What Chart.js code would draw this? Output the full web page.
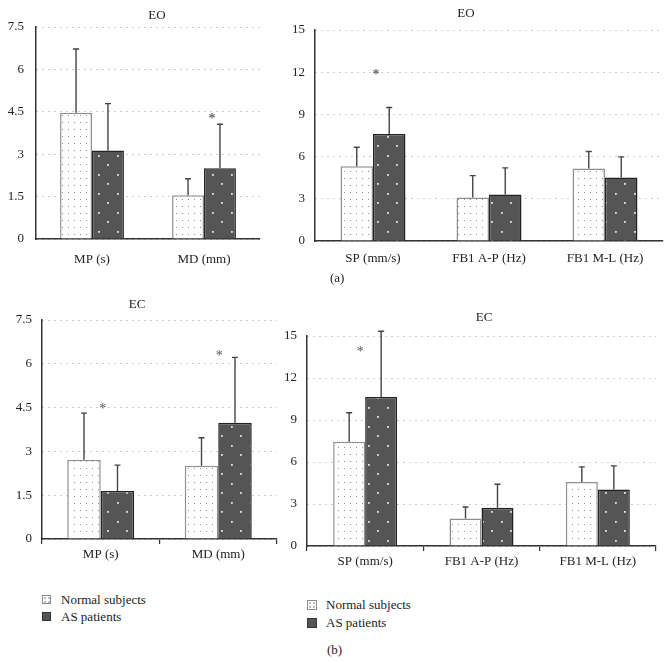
<!DOCTYPE html>
<html>
<head>
<meta charset="utf-8">
<script src="https://cdn.jsdelivr.net/npm/chart.js@4.4.1/dist/chart.umd.min.js"></script>
<style>
html,body{margin:0;padding:0;background:#fff;}
body{width:672px;height:663px;position:relative;overflow:hidden;font-family:"Liberation Serif","Times New Roman",serif;color:#222;}
canvas{position:absolute;}
.lbl{position:absolute;font-size:13px;line-height:15px;white-space:nowrap;}
.legend{position:absolute;font-size:13px;white-space:nowrap;}
.legend .row{display:flex;align-items:center;}
.sw{box-sizing:border-box;flex:none;}
.sw.n{border:1px solid #8a8a8a;background-color:#fff;background-image:radial-gradient(circle,#bbb 0.7px,transparent 1px);background-size:4px 4px;background-position:0 0;}
.sw.a{border:1px solid #333;background:#555;}
</style>
</head>
<body>
<canvas id="c1" width="300" height="275" style="left:0;top:0"></canvas>
<canvas id="c2" width="402" height="275" style="left:270px;top:0"></canvas>
<canvas id="c3" width="300" height="285" style="left:0;top:290px"></canvas>
<canvas id="c4" width="402" height="290" style="left:270px;top:290px"></canvas>

<div class="lbl" style="left:330px;top:270px">(a)</div>
<div class="lbl" style="left:327px;top:642px">(b)</div>

<div class="legend" id="leg1" style="left:42px;top:591px"></div>
<div class="legend" id="leg2" style="left:307px;top:596px"></div>

<script>
// ---------- data ----------
const seriesNames = ['Normal subjects', 'AS patients'];
const catsMPMD = ['MP (s)', 'MD (mm)'];
const catsSPFB = ['SP (mm/s)', 'FB1 A-P (Hz)', 'FB1 M-L (Hz)'];
const ticksSmall = [0, 1.5, 3, 4.5, 6, 7.5];
const ticksLarge = [0, 3, 6, 9, 12, 15];

// EO (a)
const eoNormalMPMD = [4.47, 1.55];
const eoNormalMPMD_SD = [2.25, 0.58];
const eoASMPMD = [3.13, 2.50];
const eoASMPMD_SD = [1.66, 1.56];
const eoNormalSPFB = [5.32, 3.09, 5.15];
const eoNormalSPFB_SD = [1.35, 1.56, 1.21];
const eoASSPFB = [7.60, 3.30, 4.51];
const eoASSPFB_SD = [1.89, 1.90, 1.47];

// EC (b)
const ecNormalMPMD = [2.71, 2.51];
const ecNormalMPMD_SD = [1.60, 0.96];
const ecASMPMD = [1.64, 3.98];
const ecASMPMD_SD = [0.89, 2.24];
const ecNormalSPFB = [7.44, 1.96, 4.58];
const ecNormalSPFB_SD = [2.08, 0.83, 1.07];
const ecASSPFB = [10.64, 2.74, 4.03];
const ecASSPFB_SD = [4.70, 1.67, 1.69];

// significance markers: category index and value where the "*" sits
const eoStarsMPMD = [{cat: 1, value: 4.35}];
const eoStarsSPFB = [{cat: 0, value: 11.99}];
const ecStarsMPMD = [{cat: 0, value: 4.54}, {cat: 1, value: 6.36}];
const ecStarsSPFB = [{cat: 0, value: 14.05}];

// ---------- styling ----------
const FONT = '"Liberation Serif", "Times New Roman", serif';
const TEXT = '#222';

function makePattern(bg, dot, w, h, pts, r) {
  const c = document.createElement('canvas');
  c.width = w; c.height = h;
  const g = c.getContext('2d');
  g.fillStyle = bg; g.fillRect(0, 0, w, h);
  g.fillStyle = dot;
  pts.forEach(p => g.fillRect(p[0], p[1], r, r));
  return g.createPattern(c, 'repeat');
}
const normalFill = makePattern('#ffffff', '#8c8c8c', 6, 7, [[2, 3]], 1);
const asFill = makePattern('#555555', '#e6e6e6', 19, 19, [[3, 3], [12, 12]], 1.8);

const errorBars = {
  id: 'errorBars',
  afterDatasetsDraw(chart, args, opts) {
    const ctx = chart.ctx, ys = chart.scales.y;
    chart.data.datasets.forEach((ds, di) => {
      if (!ds.errors) return;
      const meta = chart.getDatasetMeta(di);
      meta.data.forEach((bar, i) => {
        const top = ys.getPixelForValue(ds.data[i] + ds.errors[i]);
        ctx.save();
        ctx.strokeStyle = opts.color;
        ctx.lineWidth = opts.width;
        ctx.beginPath();
        ctx.moveTo(bar.x, bar.y);
        ctx.lineTo(bar.x, top);
        ctx.moveTo(bar.x - opts.cap, top);
        ctx.lineTo(bar.x + opts.cap, top);
        ctx.stroke();
        ctx.restore();
      });
    });
  }
};

const stars = {
  id: 'stars',
  afterDatasetsDraw(chart, args, opts) {
    const ctx = chart.ctx, xs = chart.scales.x, ys = chart.scales.y;
    ctx.save();
    ctx.fillStyle = opts.color;
    ctx.font = '14px ' + FONT;
    ctx.textAlign = 'center';
    ctx.textBaseline = 'alphabetic';
    (opts.items || []).forEach((s, k) => {
      const dx = (opts.dx && opts.dx[k]) || 0;
      ctx.fillText('*', xs.getPixelForValue(s.cat) + dx, ys.getPixelForValue(s.value) + 7);
    });
    ctx.restore();
  }
};

const panelTitle = {
  id: 'panelTitle',
  afterDraw(chart, args, opts) {
    const ctx = chart.ctx;
    ctx.save();
    ctx.fillStyle = TEXT;
    ctx.font = '13px ' + FONT;
    ctx.textAlign = 'center';
    ctx.textBaseline = 'middle';
    ctx.fillText(opts.text, opts.x, opts.y);
    ctx.restore();
  }
};

function build(id, cfg) {
  const yTicks = cfg.ticks;
  new Chart(document.getElementById(id), {
    type: 'bar',
    data: {
      labels: cfg.labels,
      datasets: [
        {label: seriesNames[0], data: cfg.normal, errors: cfg.normalSD,
         backgroundColor: normalFill, borderColor: '#8f8f8f', borderWidth: 1.5},
        {label: seriesNames[1], data: cfg.as, errors: cfg.asSD,
         backgroundColor: asFill, borderColor: '#222', borderWidth: 1.5}
      ]
    },
    options: {
      responsive: false,
      animation: false,
      events: [],
      layout: {padding: cfg.pad},
      datasets: {bar: {categoryPercentage: cfg.catPct, barPercentage: 1}},
      plugins: {
        legend: {display: false},
        tooltip: {enabled: false},
        title: {display: false},
        errorBars: {color: '#444', width: 1.4, cap: 3},
        stars: {items: cfg.stars, dx: cfg.starDx, color: cfg.starColor || '#333'},
        panelTitle: {text: cfg.title, x: cfg.titleX, y: cfg.titleY}
      },
      scales: {
        x: {
          offset: true,
          grid: {display: cfg.xTicks, drawOnChartArea: false, drawTicks: true,
                 tickLength: 5, offset: true, color: '#333', lineWidth: 1.2},
          border: {display: true, color: '#333', width: 1.5},
          ticks: {color: TEXT, font: {family: FONT, size: 13}, padding: cfg.xPad,
                  maxRotation: 0, autoSkip: false},
          afterFit: s => { s.height = 30; }
        },
        y: {
          min: 0,
          max: yTicks[yTicks.length - 1],
          afterBuildTicks: s => { s.ticks = yTicks.map(v => ({value: v})); },
          grid: {color: '#9a9a9a', lineWidth: 1, drawTicks: false},
          border: {display: true, color: '#333', width: 1.5, dash: [1, 5]},
          ticks: {color: TEXT, font: {family: FONT, size: 13}, padding: cfg.yPad},
          afterFit: s => { s.width = cfg.yw; }
        }
      }
    },
    plugins: [errorBars, stars, panelTitle]
  });
}

build('c1', {labels: catsMPMD, normal: eoNormalMPMD, normalSD: eoNormalMPMD_SD,
  as: eoASMPMD, asSD: eoASMPMD_SD, ticks: ticksSmall, stars: eoStarsMPMD, starDx: [8],
  title: 'EO', titleX: 157, titleY: 16, pad: {top: 27, right: 40, bottom: 6, left: 0},
  yw: 36, catPct: 0.57, xTicks: false, xPad: 8, yPad: 12});

build('c2', {labels: catsSPFB, normal: eoNormalSPFB, normalSD: eoNormalSPFB_SD,
  as: eoASSPFB, asSD: eoASSPFB_SD, ticks: ticksLarge, stars: eoStarsSPFB, starDx: [3],
  title: 'EO', titleX: 196, titleY: 14, pad: {top: 30, right: 9, bottom: 4, left: 0},
  yw: 45, catPct: 0.56, xTicks: false, xPad: 5, yPad: 10});

build('c3', {labels: catsMPMD, normal: ecNormalMPMD, normalSD: ecNormalMPMD_SD,
  as: ecASMPMD, asSD: ecASMPMD_SD, ticks: ticksSmall, stars: ecStarsMPMD, starDx: [2, 1],
  title: 'EC', titleX: 137, titleY: 15, pad: {top: 30, right: 23, bottom: 6, left: 0},
  yw: 42, catPct: 0.57, xTicks: true, xPad: 3, yPad: 10, starColor: '#555'});

build('c4', {labels: catsSPFB, normal: ecNormalSPFB, normalSD: ecNormalSPFB_SD,
  as: ecASSPFB, asSD: ecASSPFB_SD, ticks: ticksLarge, stars: ecStarsSPFB, starDx: [-5],
  title: 'EC', titleX: 214, titleY: 28, pad: {top: 46, right: 16, bottom: 4, left: 0},
  yw: 37, catPct: 0.55, xTicks: true, xPad: 3, yPad: 10, starColor: '#555'});

// HTML legends (b)
function legend(id, box, gap, rowH) {
  const el = document.getElementById(id);
  seriesNames.forEach((name, i) => {
    const row = document.createElement('div');
    row.className = 'row';
    row.style.height = rowH + 'px';
    const sw = document.createElement('span');
    sw.className = 'sw ' + (i === 0 ? 'n' : 'a');
    sw.style.width = box + 'px';
    sw.style.height = box + 'px';
    sw.style.marginRight = gap + 'px';
    const t = document.createElement('span');
    t.textContent = name;
    row.appendChild(sw); row.appendChild(t);
    el.appendChild(row);
  });
}
legend('leg1', 9, 10, 17);
legend('leg2', 10, 9, 18);
</script>
</body>
</html>
